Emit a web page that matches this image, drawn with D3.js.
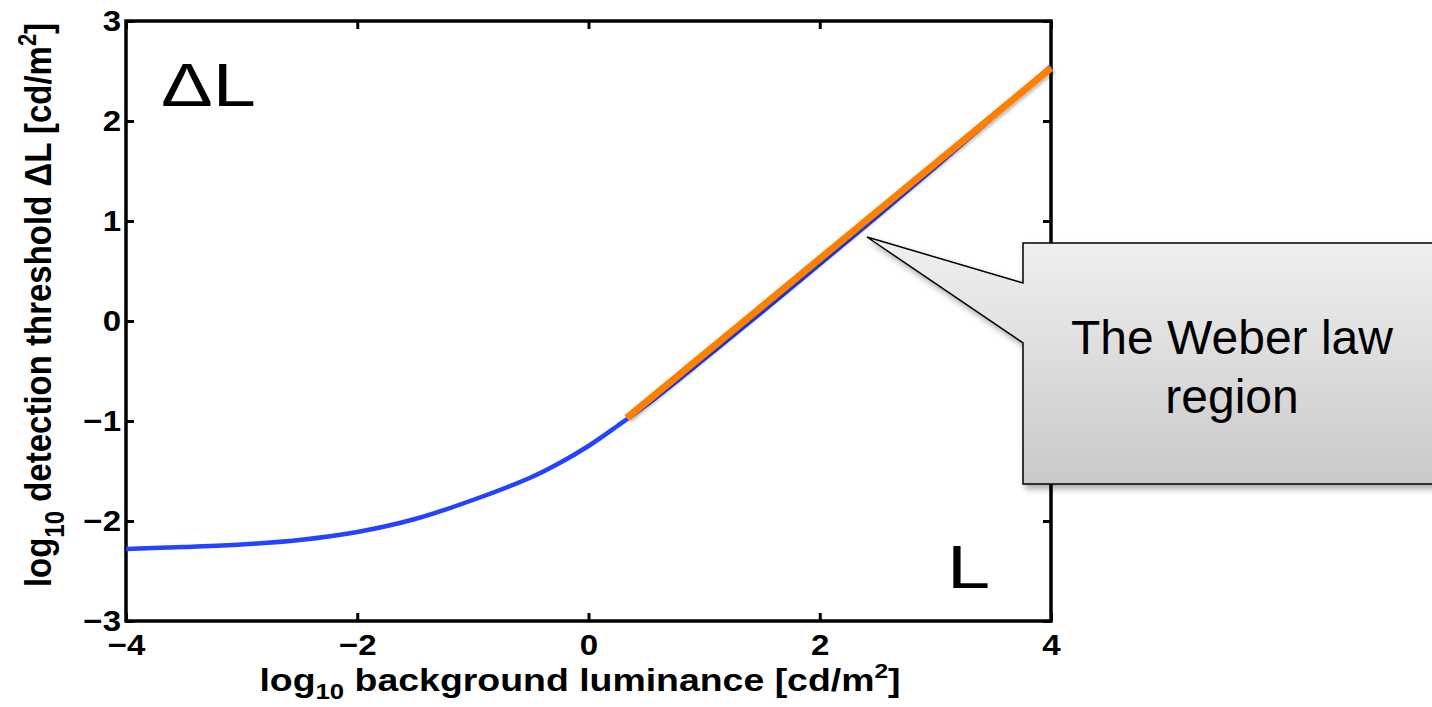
<!DOCTYPE html>
<html><head><meta charset="utf-8">
<script src="https://cdn.jsdelivr.net/npm/d3@7"></script>
<style>body{margin:0;background:#fff}svg{display:block}text{font-family:"Liberation Sans",Arial,Helvetica,sans-serif}</style>
</head><body>
<svg id="c" width="1432" height="707"></svg>
<script>
// data
const curveX = [-4, -3.5, -3, -2.5, -2, -1.5, -1, -0.5, -0.25, 0, 0.25, 0.5, 1, 1.5, 2, 2.5, 3, 3.5, 4];
const curveY = [-2.28, -2.26, -2.235, -2.19, -2.11, -1.98, -1.79, -1.565, -1.42, -1.25, -1.05, -0.84, -0.38, 0.09, 0.57, 1.05, 1.54, 2.04, 2.55];
const weberX = [0.33, 4.0];
const weberY = [-0.97, 2.53];
const xTicks = [-4, -2, 0, 2, 4];
const yTicks = [-3, -2, -1, 0, 1, 2, 3];

const SX = 1.14; // horizontal stretch of the original picture's text
const svg = d3.select("#c");
const L = 126, R = 1051, T = 21, B = 621;
const x = d3.scaleLinear().domain([-4, 4]).range([L, R]);
const y = d3.scaleLinear().domain([-3, 3]).range([B, T]);

const defs = svg.append("defs");
const g1 = defs.append("linearGradient").attr("id","bg").attr("x1",0).attr("y1",0).attr("x2",0).attr("y2",1);
g1.append("stop").attr("offset","0%").attr("stop-color","#f0f0f0");
g1.append("stop").attr("offset","100%").attr("stop-color","#c9c9c9");
const f = defs.append("filter").attr("id","sh").attr("x","-20%").attr("y","-20%").attr("width","150%").attr("height","150%");
f.append("feDropShadow").attr("dx",3).attr("dy",4).attr("stdDeviation",3).attr("flood-color","#000").attr("flood-opacity",0.35);
const f2 = defs.append("filter").attr("id","sh2").attr("x","-10%").attr("y","-10%").attr("width","130%").attr("height","130%");
f2.append("feDropShadow").attr("dx",2).attr("dy",2).attr("stdDeviation",1.5).attr("flood-color","#000").attr("flood-opacity",0.25);

// axes (ticks inward on all four sides)
const fmt = d => d < 0 ? "\u2212" + Math.abs(d) : String(d);
const tl = 8;
const ax = svg.append("g");
ax.append("g").attr("transform",`translate(0,${B})`).call(d3.axisBottom(x).tickValues(xTicks).tickSize(-tl).tickPadding(13).tickFormat(fmt));
ax.append("g").attr("transform",`translate(0,${T})`).call(d3.axisTop(x).tickValues(xTicks).tickSize(-tl).tickFormat(""));
const ly = ax.append("g").attr("transform",`translate(${L},0)`).call(d3.axisLeft(y).tickValues(yTicks).tickSize(-tl).tickPadding(5).tickFormat(fmt));
ax.append("g").attr("transform",`translate(${R},0)`).call(d3.axisRight(y).tickValues(yTicks).tickSize(-tl).tickFormat(""));
ax.selectAll(".domain").remove();
ax.selectAll(".tick line").attr("stroke","#000").attr("stroke-width",3);
ax.selectAll(".tick text").attr("fill","#000").attr("font-size",29).attr("font-weight","bold")
  .attr("transform",`scale(${SX},1)`);
ly.selectAll(".tick text").attr("x",-5/SX);
svg.append("rect").attr("x",L).attr("y",T).attr("width",R-L).attr("height",B-T)
  .attr("fill","none").attr("stroke","#000").attr("stroke-width",3.5);

// curves
const pts = curveX.map((d,i)=>[d, curveY[i]]);
const line = d3.line().x(d=>x(d[0])).y(d=>y(d[1])).curve(d3.curveCatmullRom);
svg.append("path").datum(pts).attr("d",line).attr("fill","none").attr("stroke","#2443ff").attr("stroke-width",4.5);
const wpts = weberX.map((d,i)=>[d, weberY[i]]);
svg.append("path").datum(wpts).attr("d",d3.line().x(d=>x(d[0])).y(d=>y(d[1])))
  .attr("fill","none").attr("stroke","#ff7f00").attr("stroke-width",7).attr("filter","url(#sh2)");

// labels
svg.append("text").attr("transform",`translate(161,106) scale(1.27,1)`).attr("font-size",61).text("\u0394L");
svg.append("text").attr("transform",`translate(947,588) scale(1.27,1)`).attr("font-size",61).text("L");

const xl = svg.append("text").attr("transform",`translate(580,691) scale(1.17,1)`).attr("text-anchor","middle").attr("font-size",32).attr("font-weight","bold");
xl.append("tspan").text("log");
xl.append("tspan").attr("font-size",22).attr("dy",8).text("10");
xl.append("tspan").attr("dy",-8).text(" background luminance [cd/m");
xl.append("tspan").attr("font-size",21).attr("dy",-13).text("2");
xl.append("tspan").attr("dy",13).text("]");

const yl = svg.append("text").attr("transform",`translate(51,305) rotate(-90) scale(1,${SX})`).attr("text-anchor","middle").attr("font-size",33).attr("font-weight","bold");
yl.append("tspan").text("log");
yl.append("tspan").attr("font-size",24).attr("dy",11).text("10");
yl.append("tspan").attr("dy",-11).text(" detection threshold \u0394L [cd/m");
yl.append("tspan").attr("font-size",22).attr("dy",-13).text("2");
yl.append("tspan").attr("dy",13).text("]");

// callout
const cx0 = 1023, cy0 = 243, cx1 = 1440, cy1 = 484;
const tipX = 867, tipY = 237;
const p = d3.path();
p.moveTo(cx0, cy0); p.lineTo(cx1, cy0); p.lineTo(cx1, cy1); p.lineTo(cx0, cy1);
p.lineTo(cx0, 343); p.lineTo(tipX, tipY); p.lineTo(cx0, 283); p.closePath();
svg.append("path").attr("d", p.toString()).attr("fill","url(#bg)").attr("stroke","#000").attr("stroke-width",1.5).attr("filter","url(#sh)");
svg.append("text").attr("x",1232).attr("y",354).attr("text-anchor","middle").attr("font-size",48).text("The Weber law");
svg.append("text").attr("x",1232).attr("y",413).attr("text-anchor","middle").attr("font-size",48).text("region");
</script>
</body></html>
